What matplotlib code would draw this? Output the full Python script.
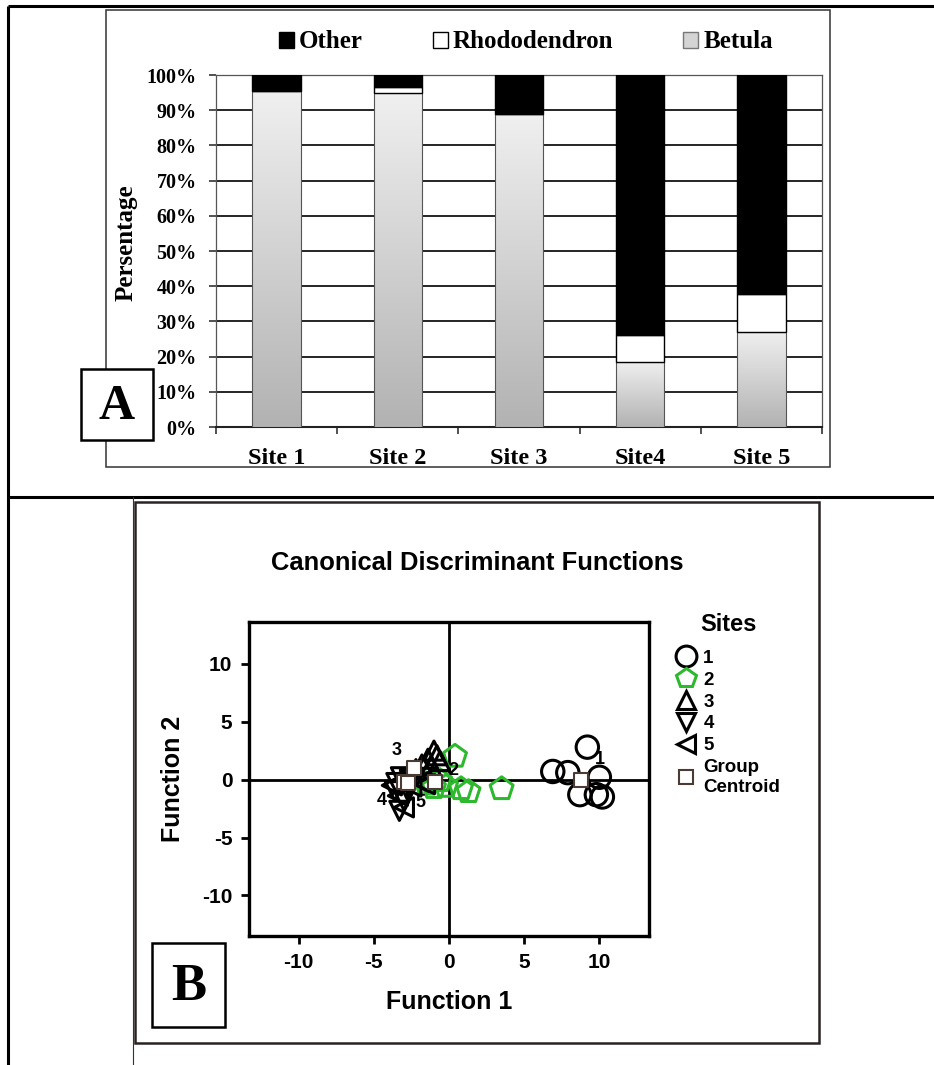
import numpy as np
import matplotlib
matplotlib.use("Agg")
import matplotlib.pyplot as plt
from matplotlib.patches import Rectangle, Patch
from matplotlib.lines import Line2D
from matplotlib.colors import LinearSegmentedColormap
from matplotlib.font_manager import FontProperties

W, H = 934, 1065

# ---------------- Panel A data ----------------
sites = ["Site 1", "Site 2", "Site 3", "Site4", "Site 5"]
betula = [95.5, 95.0, 89.0, 18.5, 27.0]
rhododendron = [0.0, 1.7, 0.0, 7.5, 10.7]
other = [4.5, 3.3, 11.0, 74.0, 62.3]
y_ticks_a = [0, 10, 20, 30, 40, 50, 60, 70, 80, 90, 100]
y_labels_a = ["0%", "10%", "20%", "30%", "40%", "50%", "60%", "70%", "80%", "90%", "100%"]
legend_a = ["Other", "Rhododendron", "Betula"]

# ---------------- Panel B data ----------------
s1_f1 = [9.2, 6.9, 7.9, 10.0, 8.7, 10.2, 9.8]
s1_f2 = [2.8, 0.7, 0.6, 0.2, -1.3, -1.5, -1.3]
s2_f1 = [0.4, 0.8, 1.3, 3.5, -0.6, -0.2, -1.0, -1.5]
s2_f2 = [2.0, -0.8, -1.05, -0.8, -0.1, -0.6, -0.7, -0.4]
s3_f1 = [-1.0, -0.8, -1.4, -1.8, -2.2, -0.6, -1.2]
s3_f2 = [2.5, 2.1, 1.8, 1.3, 0.9, 1.6, 1.2]
s4_f1 = [-3.3, -3.5, -3.2, -3.6, -2.8, -3.0, -2.6]
s4_f2 = [-2.7, -0.3, 0.2, -1.0, -0.8, -1.8, 0.0]
s5_f1 = [-3.0, -3.8, -3.4, -2.5, -2.0, -2.9, -1.6]
s5_f2 = [-2.4, -0.5, -1.4, -0.6, -0.2, 0.4, -0.4]
centroid_f1 = [8.8, -0.9, -2.3, -3.0, -2.7]
centroid_f2 = [0.0, -0.2, 1.0, -0.2, -0.3]
centroid_names = ["1", "2", "3", "4", "5"]
label_f1 = [10.05, 0.3, -3.45, -4.45, -1.9]
label_f2 = [1.7, 0.8, 2.55, -1.8, -2.0]
ticks_b = [-10, -5, 0, 5, 10]
tick_labels_b = ["-10", "-5", "0", "5", "10"]
legend_b = ["1", "2", "3", "4", "5", "Group\nCentroid"]

SERIF = "Liberation Serif"
SANS = "Liberation Sans"
GREEN = "#2db82d"


def px_rect(x0, y0, x1, y1):
    return [x0 / W, 1 - y1 / H, (x1 - x0) / W, (y1 - y0) / H]


fig = plt.figure(figsize=(W / 100, H / 100), dpi=100)
fig.patch.set_facecolor("white")

# background overlay (table lines, panel boxes)
bg = fig.add_axes([0, 0, 1, 1], zorder=-5)
bg.set_xlim(0, W)
bg.set_ylim(H, 0)
bg.axis("off")
bg.plot([8, W], [6, 6], color="black", lw=2.2, solid_capstyle="butt")
bg.plot([8, W], [497, 497], color="black", lw=2.2, solid_capstyle="butt")
bg.plot([8, 8], [6, H], color="black", lw=2.2, solid_capstyle="butt")
bg.plot([133, 133], [497, H], color="#333333", lw=0.8)
bg.add_patch(Rectangle((106, 10), 724, 457, fill=False, edgecolor="#333333", lw=1.1))
bg.add_patch(Rectangle((135, 502), 684, 541, fill=False, edgecolor="#2a2222", lw=1.8))

# ---------------- Panel A ----------------
axA = fig.add_axes(px_rect(216, 75, 822, 427))
x = np.arange(len(sites))
bw = 0.40
cmap = LinearSegmentedColormap.from_list("grey", ["#b2b2b2", "#f0f0f0"])
b1 = axA.bar(x, betula, bw, color="none", edgecolor="#555555", lw=0.8, zorder=4)
for bar in b1:
    x0, y0 = bar.get_x(), bar.get_y()
    w, h = bar.get_width(), bar.get_height()
    grad = np.linspace(1, 0, 256).reshape(-1, 1)
    im = axA.imshow(grad, extent=[x0, x0 + w, y0, y0 + h], aspect="auto",
                    cmap=cmap, vmin=0, vmax=1, origin="upper", zorder=3)
    im.set_clip_path(bar)
bottom2 = np.array(betula)
axA.bar(x, rhododendron, bw, bottom=bottom2, color="white", edgecolor="black", lw=1.0, zorder=4)
bottom3 = bottom2 + np.array(rhododendron)
axA.bar(x, other, bw, bottom=bottom3, color="black", edgecolor="black", lw=1.0, zorder=4)

axA.set_xlim(-0.5, len(sites) - 0.5)
axA.set_ylim(0, 100)
axA.set_aspect("auto")
axA.set_yticks(y_ticks_a)
axA.set_yticklabels(y_labels_a, fontfamily=SERIF, fontweight="bold", fontsize=14.5)
axA.set_xticks(x)
axA.set_xticklabels(sites, fontfamily=SERIF, fontweight="bold", fontsize=17.5)
axA.set_xticks(np.arange(-0.5, len(sites)), minor=True)
axA.tick_params(axis="x", which="major", length=0, pad=15)
axA.tick_params(axis="x", which="minor", length=5, width=1.2, direction="out", color="#333333")
axA.tick_params(axis="y", length=5, width=1.2, pad=9, color="#333333")
axA.yaxis.grid(True, color="black", lw=1.2)
axA.set_axisbelow(True)
for s in ["left", "right", "top"]:
    axA.spines[s].set_color("#555555")
    axA.spines[s].set_linewidth(0.9)
axA.spines["bottom"].set_color("#222222")
axA.spines["bottom"].set_linewidth(1.5)
axA.set_ylabel("Persentage", fontfamily=SERIF, fontweight="bold", fontsize=18)
axA.yaxis.set_label_coords((138 - 216) / 606, (427 - 243) / 352)

handles_a = [Patch(facecolor="black", edgecolor="black"),
             Patch(facecolor="white", edgecolor="black", lw=1),
             Patch(facecolor="#d4d4d4", edgecolor="#777777", lw=1)]
axA.legend(handles_a, legend_a, ncol=3, loc="center",
           bbox_to_anchor=(526 / W, 1 - 42 / H), bbox_transform=fig.transFigure,
           frameon=False, handlelength=0.6, handleheight=0.6, handletextpad=0.2,
           columnspacing=2.8, prop=FontProperties(family=SERIF, weight="bold", size=18))

# ---------------- Panel B ----------------
fig.text(477 / W, 1 - 563 / H, "Canonical Discriminant Functions", ha="center", va="center",
         fontfamily=SANS, fontweight="bold", fontsize=18.4)

axB = fig.add_axes(px_rect(249, 622, 649, 936))
axB.set_xlim(-13.3, 13.3)
axB.set_ylim(-13.5, 13.6)
axB.axhline(0, color="black", lw=2.0, zorder=1)
axB.axvline(0, color="black", lw=2.0, zorder=1)

mlw = 2.2
axB.scatter(s1_f1, s1_f2, s=260, marker="o", facecolors="none", edgecolors="black", linewidths=mlw, zorder=3)
axB.scatter(s2_f1, s2_f2, s=300, marker="p", facecolors="none", edgecolors=GREEN, linewidths=mlw, zorder=3)
axB.scatter(s3_f1, s3_f2, s=190, marker="^", facecolors="none", edgecolors="black", linewidths=mlw, zorder=3)
axB.scatter(s4_f1, s4_f2, s=190, marker="v", facecolors="none", edgecolors="black", linewidths=mlw, zorder=3)
axB.scatter(s5_f1, s5_f2, s=190, marker="<", facecolors="none", edgecolors="black", linewidths=mlw, zorder=3)
axB.scatter(centroid_f1, centroid_f2, s=110, marker="s", facecolors="white", edgecolors="#4a3c34",
            linewidths=1.5, zorder=4)
for name, lx, ly in zip(centroid_names, label_f1, label_f2):
    axB.text(lx, ly, name, ha="center", va="center", fontfamily=SANS, fontweight="bold",
             fontsize=13, zorder=5)

axB.set_xticks(ticks_b)
axB.set_xticklabels(tick_labels_b, fontfamily=SANS, fontweight="bold", fontsize=15)
axB.set_yticks(ticks_b)
axB.set_yticklabels(tick_labels_b, fontfamily=SANS, fontweight="bold", fontsize=15)
axB.tick_params(length=6, width=2, pad=6, direction="out")
for s in axB.spines.values():
    s.set_linewidth(2.4)
axB.set_xlabel("Function 1", fontfamily=SANS, fontweight="bold", fontsize=18)
axB.xaxis.set_label_coords((449 - 249) / 400, -(990 - 936) / 314)
axB.set_ylabel("Function 2", fontfamily=SANS, fontweight="bold", fontsize=18)
axB.yaxis.set_label_coords(-(249 - 185) / 400, (936 - 779) / 314)

handles_b = [
    Line2D([], [], ls="none", marker="o", ms=15, mfc="none", mec="black", mew=2.2),
    Line2D([], [], ls="none", marker="p", ms=15, mfc="none", mec=GREEN, mew=2.2),
    Line2D([], [], ls="none", marker="^", ms=13, mfc="none", mec="black", mew=2.2),
    Line2D([], [], ls="none", marker="v", ms=13, mfc="none", mec="black", mew=2.2),
    Line2D([], [], ls="none", marker="<", ms=13, mfc="none", mec="black", mew=2.2),
    Line2D([], [], ls="none", marker="s", ms=10, mfc="white", mec="#4a3c34", mew=1.5),
]
legB = fig.legend(handles_b, legend_b, title="Sites", loc="upper left",
                  bbox_to_anchor=(677 / W, 1 - 613 / H), frameon=False,
                  prop=FontProperties(family=SANS, weight="bold", size=13.5),
                  title_fontproperties=FontProperties(family=SANS, weight="bold", size=17),
                  handlelength=1.0, handletextpad=0.4, labelspacing=0.25,
                  borderpad=0, borderaxespad=0)
legB._legend_box.sep = 10

# foreground overlay: panel letters
fg = fig.add_axes([0, 0, 1, 1], zorder=20)
fg.set_xlim(0, W)
fg.set_ylim(H, 0)
fg.axis("off")
fg.patch.set_alpha(0)
fg.add_patch(Rectangle((81, 369), 72, 71, facecolor="white", edgecolor="black", lw=1.8))
fg.text(117, 407, "A", ha="center", va="center", fontfamily=SERIF, fontweight="bold", fontsize=36)
fg.add_patch(Rectangle((152, 943), 73, 84, facecolor="white", edgecolor="black", lw=1.8))
fg.text(188.5, 987, "B", ha="center", va="center", fontfamily=SERIF, fontweight="bold", fontsize=38)

fig.savefig("out.png", dpi=100)
